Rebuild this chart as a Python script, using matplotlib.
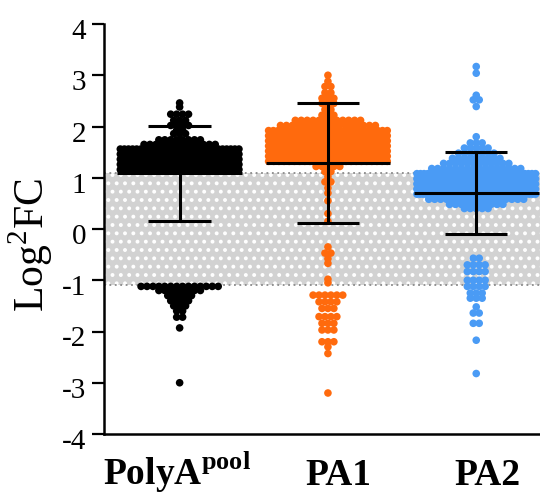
import numpy as np
import matplotlib.pyplot as plt
from matplotlib.ticker import FuncFormatter
from matplotlib.transforms import ScaledTranslation

plt.rcParams["font.family"] = ["Liberation Serif", "DejaVu Serif"]
plt.rcParams["mathtext.fontset"] = "custom"
plt.rcParams["mathtext.rm"] = "Liberation Serif"
plt.rcParams["mathtext.bf"] = "Liberation Serif:bold"
plt.rcParams["hatch.linewidth"] = 1.6

groups = [r"PolyA$^{\mathbf{pool}}$", "PA1", "PA2"]
colors = ["#000000", "#FF6A0D", "#4A9BF5"]
label_shift = [-0.02, 0.07, 0.075]   # group labels sit a bit off-centre in the original

# row levels (log2FC) and number of dots in each row
polya_levels = [2.46, 2.38, 2.24, 2.12, 2.02, 1.93, 1.86, 1.74, 1.65, 1.56, 1.46, 1.36, 1.26, 1.16,
                -1.12, -1.2, -1.3, -1.4, -1.5, -1.6, -1.72, -1.93, -3.0]
polya_counts = [1, 1, 4, 3, 4, 2, 3, 8, 13, 30, 40, 45, 50, 55,
                14, 8, 5, 4, 3, 2, 2, 1, 1]

pa1_levels = [3.0, 2.88, 2.78, 2.66, 2.55, 2.45, 2.33, 2.22, 2.12, 2.02, 1.92, 1.82, 1.72, 1.62,
              1.52, 1.42, 1.32, 1.22, 1.12, 1.02, 0.92, 0.8, 0.7, 0.55, 0.3, 0.15,
              -0.35, -0.47, -0.58, -0.67, -0.98, -1.05, -1.29, -1.42, -1.55, -1.71, -1.84,
              -1.97, -2.2, -2.3, -2.43, -3.2]
pa1_counts = [1, 1, 2, 2, 3, 3, 2, 3, 12, 17, 26, 35, 40, 42,
              42, 38, 24, 5, 2, 1, 2, 1, 1, 1, 1, 1,
              1, 2, 1, 1, 1, 1, 6, 4, 3, 4, 3,
              3, 3, 1, 1, 1]

pa2_levels = [3.17, 3.04, 2.61, 2.52, 2.39, 1.8, 1.68, 1.58, 1.48, 1.38, 1.28, 1.18, 1.08, 0.98,
              0.88, 0.78, 0.68, 0.58, 0.48, 0.4,
              -0.57, -0.7, -0.83, -1.0, -1.12, -1.25, -1.35, -1.52, -1.64, -1.84, -2.17, -2.82]
pa2_counts = [1, 1, 1, 2, 1, 1, 3, 5, 7, 9, 12, 16, 34, 40,
              42, 42, 40, 17, 10, 5,
              2, 4, 4, 4, 4, 3, 3, 1, 2, 2, 1, 1]

# mean and SD bars as drawn
means = [1.085, 1.29, 0.70]
sds = [0.925, 1.17, 0.795]

band_lo, band_hi = -1.1, 1.1

levels = [polya_levels, pa1_levels, pa2_levels]
counts = [polya_counts, pa1_counts, pa2_counts]


def row_offsets(n, dx, half_width):
    if n <= 1:
        return np.zeros(max(n, 0))
    if (n - 1) * dx > 2 * half_width:
        dx = 2 * half_width / (n - 1)
    return (np.arange(n) - (n - 1) / 2) * dx


fig = plt.figure(figsize=(5.4, 5.0), dpi=100)
ax = fig.add_axes([104 / 540, 66 / 500, 1 - 104 / 540, 410 / 500])

ax.axhspan(band_lo, band_hi, facecolor="#d2d2d2", hatch="..", edgecolor="white", lw=0, zorder=0)
for yb in (band_lo, band_hi):
    ax.axhline(yb, color="#8a8a8a", ls=(0, (1, 2)), lw=1.3, zorder=1)

for i, (lv, cn, col) in enumerate(zip(levels, counts, colors)):
    xs, ys = [], []
    for y, n in zip(lv, cn):
        off = row_offsets(n, 0.04, 0.40)
        xs.extend(i + off)
        ys.extend([y] * n)
    ax.scatter(xs, ys, s=30, color=col, edgecolors="none", zorder=2)

    m, sd = means[i], sds[i]
    ax.hlines(m, i - 0.42, i + 0.42, color="black", lw=2.2, zorder=3)
    ax.vlines(i, m - sd, m + sd, color="black", lw=2.2, zorder=3)
    ax.hlines([m - sd, m + sd], i - 0.21, i + 0.21, color="black", lw=2.2, zorder=3)

ax.set_xlim(-0.51, 2.43)
ax.set_ylim(-4, 4)
ax.set_yticks(range(-4, 5))
ax.yaxis.set_major_formatter(FuncFormatter(lambda v, p: f"{v:.0f}".replace("\u2212", "-")))
ax.set_xticks([])
for i, g in enumerate(groups):
    ax.text(i + label_shift[i], -0.124, g, transform=ax.get_xaxis_transform(),
            ha="center", va="baseline", fontsize=27, fontweight="bold")
ax.tick_params(axis="y", length=9, width=1.6, labelsize=21, pad=4, direction="out")
for lab in ax.get_yticklabels():
    lab.set_transform(lab.get_transform() + ScaledTranslation(0, -0.05, fig.dpi_scale_trans))

for side in ("top", "right"):
    ax.spines[side].set_visible(False)
for side in ("left", "bottom"):
    ax.spines[side].set_linewidth(1.8)

ax.set_ylabel(r"Log$^{2}$FC", fontsize=30)
ax.yaxis.set_label_coords(-0.112, 0.46)

fig.savefig("out.png", dpi=100)
